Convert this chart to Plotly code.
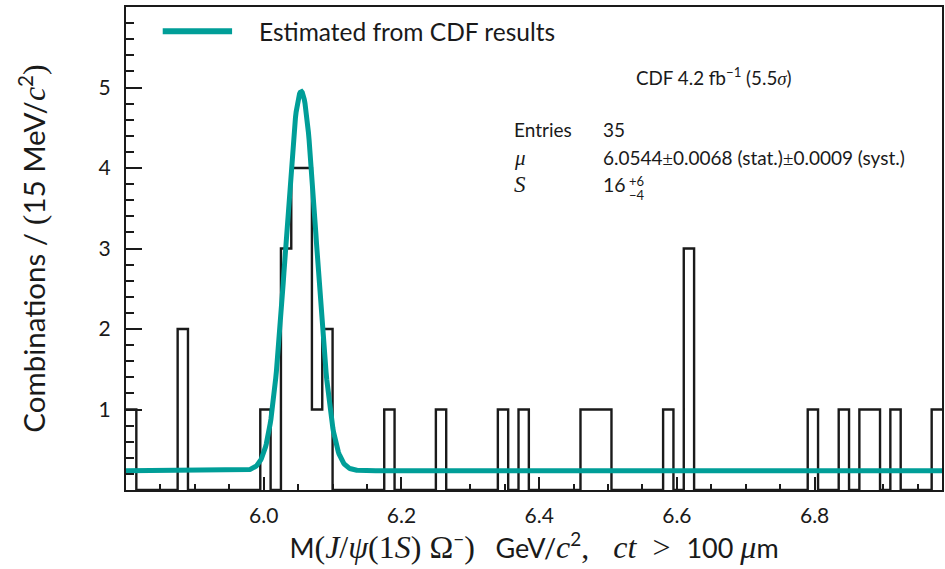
import numpy as np
import plotly.graph_objects as go

# Histogram binning: 15 MeV bins starting at 5.800 GeV
bin_start = 5.8
bin_width = 0.015
counts = [
    1, 0, 0, 0, 0, 2, 0, 0, 0, 0,   # 5.800 - 5.950
    0, 0, 0, 1, 0, 3, 4, 4, 1, 2,   # 5.950 - 6.100
    0, 0, 0, 0, 0, 1, 0, 0, 0, 0,   # 6.100 - 6.250
    1, 0, 0, 0, 0, 0, 1, 0, 1, 0,   # 6.250 - 6.400
    0, 0, 0, 0, 1, 1, 1, 0, 0, 0,   # 6.400 - 6.550
    0, 0, 1, 0, 3, 0, 0, 0, 0, 0,   # 6.550 - 6.700
    0, 0, 0, 0, 0, 0, 1, 0, 0, 1,   # 6.700 - 6.850
    0, 1, 1, 0, 1, 0, 0, 0, 1,      # 6.850 - 6.985
]

# Signal model estimated from CDF results (Gaussian on flat background)
fit_mu = 6.0544
fit_sigma = 0.022
fit_amp = 4.71
fit_bkg = 0.24

x_range = [5.8, 6.985]
y_range = [0, 6]
x_tickvals = [6.0, 6.2, 6.4, 6.6, 6.8]
x_ticktext = ["6.0", "6.2", "6.4", "6.6", "6.8"]
y_tickvals = [1, 2, 3, 4, 5]

edges = bin_start + bin_width * np.arange(len(counts) + 1)
step_y = list(counts) + [counts[-1]]

xm = np.linspace(x_range[0], x_range[1], 1200)
ym = fit_bkg + fit_amp * np.exp(-0.5 * ((xm - fit_mu) / fit_sigma) ** 2)

TEAL = "#009E98"
INK = "#1a1a1a"
FONT = "Lato"
SERIF = "Liberation Serif"

fig = go.Figure()
fig.add_trace(go.Scatter(
    x=edges, y=step_y, mode="lines", line=dict(color=INK, width=2.4, shape="hv"),
    showlegend=False, hoverinfo="skip",
))
fig.add_trace(go.Scatter(
    x=xm, y=ym, mode="lines", line=dict(color=TEAL, width=5),
    name="Estimated from CDF results", showlegend=False,
))

# Legend sample line and label
fig.add_shape(type="line", xref="paper", yref="paper",
              x0=0.045, x1=0.130, y0=0.950, y1=0.950,
              line=dict(color=TEAL, width=6))
fig.add_annotation(xref="paper", yref="paper", x=0.161, y=0.950,
                   xanchor="left", yanchor="middle", showarrow=False,
                   text="Estimated from CDF results",
                   font=dict(family=FONT, size=24.5, color=INK))


def m(s, size=None):
    """Math-style italic in a serif face."""
    fs = f";font-size:{size}px" if size else ""
    return f'<span style="font-family:{SERIF}{fs}"><i>{s}</i></span>'


def r(s, size=None):
    """Upright serif symbols."""
    fs = f";font-size:{size}px" if size else ""
    return f'<span style="font-family:{SERIF}{fs}">{s}</span>'


PM = r("\u00b1")
info = [
    (0.622, 0.857, "CDF 4.2 fb<sup>\u22121</sup> (5.5" + m("\u03c3") + ")", 18.8),
    (0.473, 0.746, "Entries", 19),
    (0.582, 0.746, "35", 19),
    (0.473, 0.688, m("\u03bc"), 21),
    (0.582, 0.688, "6.0544" + PM + "0.0068 (stat.)" + PM + "0.0009 (syst.)", 19),
    (0.473, 0.632, m("S"), 23),
    (0.582, 0.632, "16", 19.5),
]
for x, y, t, s in info:
    fig.add_annotation(xref="paper", yref="paper", x=x, y=y, xanchor="left",
                       yanchor="middle", showarrow=False, text=t,
                       font=dict(family=FONT, size=s, color=INK))
fig.add_annotation(xref="paper", yref="paper", x=0.6135, y=0.640, xanchor="left",
                   yanchor="middle", showarrow=False, text="+6",
                   font=dict(family=FONT, size=13, color=INK))
fig.add_annotation(xref="paper", yref="paper", x=0.6135, y=0.610, xanchor="left",
                   yanchor="middle", showarrow=False, text="\u22124",
                   font=dict(family=FONT, size=13, color=INK))

MS = 32  # size of the serif math pieces in the axis titles
x_title = ("M" + r("(", MS) + m("J", MS) + r("/", MS) + m("\u03c8", MS) + r("(1", MS)
           + m("S", MS) + r(")&#160;\u03a9", MS) + "<sup>\u2212</sup>" + r(")", MS)
           + "&#160;&#160;&#160;GeV/" + m("c", MS) + "<sup>2</sup>" + r(",&#160;&#160;&#160;", MS)
           + m("ct", MS) + r("&#160;&#160;&gt;&#160;&#160;", MS) + "100&#160;" + m("\u03bc", MS) + "m")
y_title = "Combinations / " + r("(", 32) + "15 MeV/" + m("c", 32) + "<sup>2</sup>" + r(")", 32)

axis_common = dict(showline=True, linecolor=INK, linewidth=2, mirror=True,
                   ticks="inside", tickcolor=INK, tickwidth=2,
                   showgrid=False, zeroline=False,
                   tickfont=dict(family=FONT, size=21, color=INK))

fig.update_layout(
    width=945, height=569,
    margin=dict(l=126, r=1, t=7, b=79),
    paper_bgcolor="white", plot_bgcolor="white",
    font=dict(family=FONT, color=INK),
    xaxis=dict(**axis_common, range=x_range, tickvals=x_tickvals, ticktext=x_ticktext,
               ticklen=13, ticklabelstandoff=6,
               minor=dict(dtick=0.05, tick0=5.8, ticklen=6, tickwidth=2,
                          tickcolor=INK, ticks="inside"),
               title=dict(text=x_title, font=dict(family=FONT, size=27), standoff=3)),
    yaxis=dict(**axis_common, range=y_range, tickvals=y_tickvals,
               ticklen=16, ticklabelstandoff=9,
               minor=dict(dtick=0.2, tick0=0, ticklen=8, tickwidth=2,
                          tickcolor=INK, ticks="inside"),
               title=dict(text=y_title, font=dict(family=FONT, size=29.5), standoff=44)),
)

fig.write_html("out.html")
